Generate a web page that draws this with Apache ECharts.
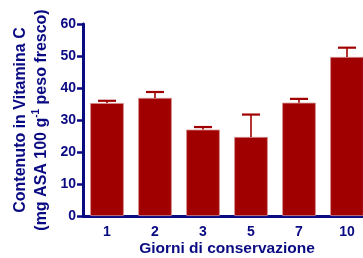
<!DOCTYPE html>
<html><head><meta charset="utf-8">
<script src="https://cdn.jsdelivr.net/npm/echarts@6/dist/echarts.min.js"></script>
<style>html,body{margin:0;padding:0;background:#fff}#c{width:363px;height:258px}</style>
</head><body><div id="c"></div>
<script>
const categories = ['1', '2', '3', '5', '7', '10'];
const values = [35.3, 36.9, 27.0, 24.7, 35.4, 49.7];
const errors = [0.7, 1.85, 0.8, 7.0, 1.2, 2.9];
const yTicks = [0, 10, 20, 30, 40, 50, 60];

const NAVY = '#0a0a82';
const RED = '#a00000';
const FONT = '"Liberation Sans", Arial, sans-serif';

const chart = echarts.init(document.getElementById('c'), null, {renderer: 'canvas'});
chart.setOption({
  animation: false,
  backgroundColor: '#fff',
  grid: {left: 83, top: 24, width: 288, height: 192, containLabel: false, outerBoundsMode: 'none'},
  xAxis: {
    type: 'category',
    data: categories,
    axisLine: {lineStyle: {color: NAVY, width: 3}},
    axisTick: {show: false},
    axisLabel: {color: NAVY, fontFamily: FONT, fontWeight: 'bold', fontSize: 14, margin: 9},
    name: 'Giorni di conservazione',
    nameLocation: 'middle',
    nameGap: 25,
    nameMoveOverlap: false,
    nameTextStyle: {color: NAVY, fontFamily: FONT, fontWeight: 'bold', fontSize: 15.5}
  },
  yAxis: {
    type: 'value',
    min: yTicks[0],
    max: yTicks[yTicks.length - 1],
    interval: 10,
    splitLine: {show: false},
    axisLine: {show: true, lineStyle: {color: NAVY, width: 3}},
    axisTick: {show: true, length: 6, lineStyle: {color: NAVY, width: 2.5}},
    axisLabel: {color: NAVY, fontFamily: FONT, fontWeight: 'bold', fontSize: 14, margin: 7},
    name: '{a|Contenuto in Vitamina C}\n{a|(mg ASA 100 g}{s|-1}{a| peso fresco)}',
    nameLocation: 'middle',
    nameGap: 31,
    nameMoveOverlap: false,
    nameRotate: 90,
    nameTextStyle: {
      color: NAVY, fontFamily: FONT, fontWeight: 'bold', fontSize: 16,
      rich: {
        a: {color: NAVY, fontFamily: FONT, fontWeight: 'bold', fontSize: 16, lineHeight: 21},
        s: {color: NAVY, fontFamily: FONT, fontWeight: 'bold', fontSize: 10, lineHeight: 21, verticalAlign: 'top', padding: [0, 0, 8, 0]}
      }
    }
  },
  series: [
    {
      type: 'bar',
      data: values,
      barCategoryGap: '30%',
      itemStyle: {color: RED, borderColor: '#d48a8a', borderWidth: 0.8},
      z: 2
    },
    {
      type: 'custom',
      z: 3,
      data: categories.map((c, i) => [i, values[i], values[i] + errors[i]]),
      renderItem: function (params, api) {
        const base = api.coord([api.value(0), api.value(1)]);
        const top = api.coord([api.value(0), api.value(2)]);
        return {
          type: 'group',
          children: [
            {type: 'line', shape: {x1: base[0], y1: base[1], x2: top[0], y2: top[1]}, style: {stroke: RED, lineWidth: 1.6}},
            {type: 'line', shape: {x1: top[0] - 9, y1: top[1], x2: top[0] + 9, y2: top[1]}, style: {stroke: RED, lineWidth: 2.2}}
          ]
        };
      }
    }
  ]
});
</script></body></html>
